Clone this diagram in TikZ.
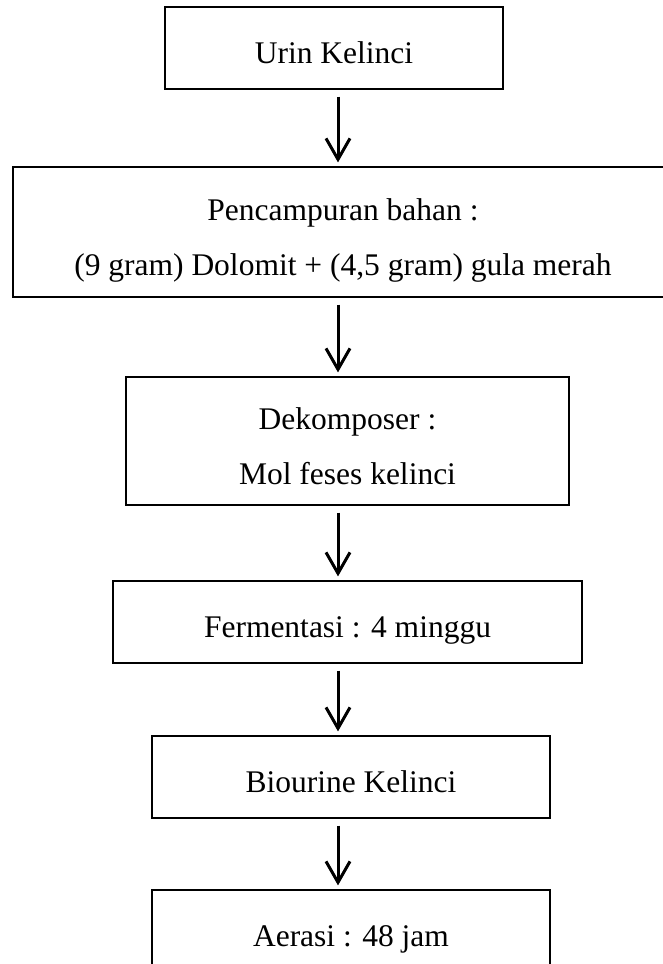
\documentclass[tikz,border=0pt]{standalone}
\usepackage{fontspec}
\setmainfont{Liberation Serif}
\usetikzlibrary{arrows.meta}

\begin{document}
\begin{tikzpicture}[x=1pt,y=-1pt,
        box/.style={draw,line width=1.2pt,align=center,inner sep=0pt,
                    font=\fontsize{31.5}{55}\selectfont,text height=38pt,text depth=8pt},
        flow/.style={line width=3pt,->,shorten <=7pt,shorten >=4pt},
        >={Straight Barb[length=21pt,width=24pt,line width=3pt]}]
        \useasboundingbox (0,0) rectangle (663,964);
        %% Blocks
        \node[box,minimum width=338pt,minimum height=82pt] (A) at (334,48) {Urin Kelinci};
        \node[box,minimum width=660pt,minimum height=130pt,text height=94pt] (B) at (343,232)
            {Pencampuran bahan :\\(9 gram) Dolomit + (4,5 gram) gula merah};
        \node[box,minimum width=443pt,minimum height=128pt,text height=94pt] (C) at (347.5,441)
            {Dekomposer :\\Mol feses kelinci};
        \node[box,minimum width=469pt,minimum height=82pt] (D) at (347.5,622) {Fermentasi : 4 minggu};
        \node[box,minimum width=398pt,minimum height=82pt] (E) at (351,777) {Biourine Kelinci};
        \node[box,minimum width=398pt,minimum height=82pt] (F) at (351,931) {Aerasi : 48 jam};
        %% Arrows
        \coordinate (ax) at (338,0);
        \draw[flow] (A.south -| ax) -- (B.north -| ax);
        \draw[flow] (B.south -| ax) -- (C.north -| ax);
        \draw[flow] (C.south -| ax) -- (D.north -| ax);
        \draw[flow] (D.south -| ax) -- (E.north -| ax);
        \draw[flow] (E.south -| ax) -- (F.north -| ax);
    \end{tikzpicture}
\end{document}
